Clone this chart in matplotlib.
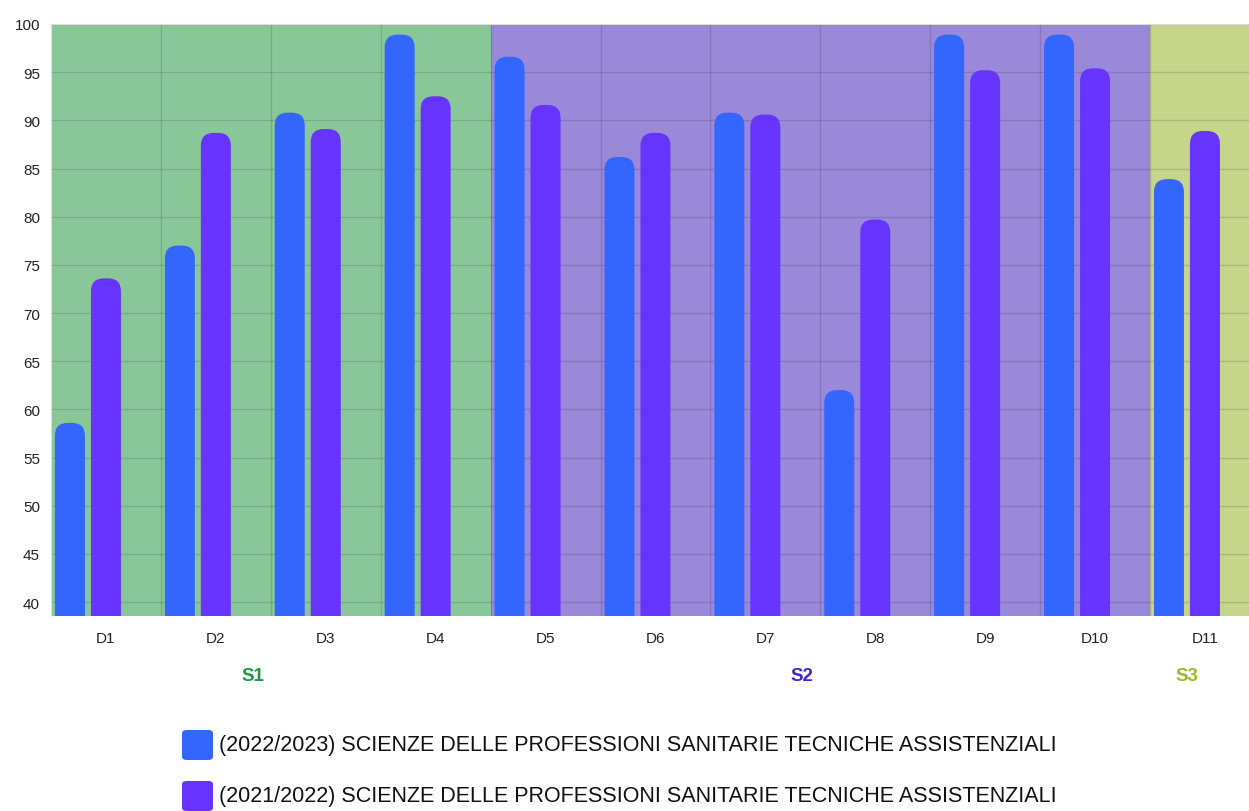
import matplotlib
matplotlib.use("Agg")
import matplotlib.pyplot as plt
from matplotlib.patches import FancyBboxPatch

plt.rcParams['font.family'] = ['Liberation Sans', 'DejaVu Sans']

categories = ['D1', 'D2', 'D3', 'D4', 'D5', 'D6', 'D7', 'D8', 'D9', 'D10', 'D11']
serie_2023 = [58.6, 77.0, 90.8, 98.9, 96.6, 86.2, 90.8, 62.0, 98.9, 98.9, 83.9]
serie_2022 = [73.6, 88.7, 89.1, 92.5, 91.6, 88.7, 90.6, 79.7, 95.2, 95.4, 88.9]
nomi = ['(2022/2023) SCIENZE DELLE PROFESSIONI SANITARIE TECNICHE ASSISTENZIALI',
        '(2021/2022) SCIENZE DELLE PROFESSIONI SANITARIE TECNICHE ASSISTENZIALI']
colori = ['#3366FF', '#6633FF']

# semestri: (nome, primo indice, ultimo indice)
semestri = [('S1', 0, 3), ('S2', 4, 9), ('S3', 10, 10)]
sfondi = ['#89C799', '#9A89D9', '#C6D58A']
col_sem = ['#229944', '#4422CC', '#99BB22']

W, H = 1249, 812
cat_px = 109.9          # larghezza di una categoria in pixel (l'ultima e' tagliata)
fig = plt.figure(figsize=(W / 100, H / 100), dpi=100)
ax = fig.add_axes([51 / W, 1 - 617 / H, 1 - 51 / W, (617 - 25) / H])

ymin, ymax = 38.55, 100
ax.set_xlim(0, (W - 51) / cat_px)
ax.set_ylim(ymin, ymax)

# sfondi dei semestri
for (nome, a, b), c in zip(semestri, sfondi):
    ax.axvspan(a, b + 1, color=c, zorder=0, lw=0)

# griglia
for y in range(40, 101, 5):
    ax.axhline(y, color='black', alpha=0.13, lw=1, zorder=1)
for i in range(1, len(categories)):
    ax.axvline(i, color='black', alpha=0.13, lw=1, zorder=1)

# barre arrotondate in alto
bw = 30 / cat_px
offs = [-36 / cat_px, 0.0]
px_y = (617 - 25) / (ymax - ymin)
aspect = cat_px / px_y
r = 13 / cat_px
for serie, off, col in zip([serie_2023, serie_2022], offs, colori):
    for i, v in enumerate(serie):
        x0 = i + 0.5 + off - bw / 2
        p = FancyBboxPatch((x0, 20), bw, v - 20,
                           boxstyle='round,pad=0,rounding_size=%f' % r,
                           mutation_aspect=aspect, fc=col, ec='none',
                           zorder=3, clip_on=True)
        ax.add_patch(p)

ax.set_yticks(range(40, 101, 5))
ax.set_yticklabels([str(y) for y in range(40, 101, 5)], fontsize=11, color='#222222')
ax.set_xticks([i + 0.5 for i in range(len(categories))])
ax.set_xticklabels(categories, fontsize=11, color='#222222')
ax.tick_params(length=0, pad=8)
ax.tick_params(axis='x', pad=11)
for s in ['right', 'bottom']:
    ax.spines[s].set_visible(False)
for s in ['top', 'left']:
    ax.spines[s].set_color('#dddddd')

# etichette semestri
centro_gruppo = (offs[0] + offs[1]) / 2
for (nome, a, b), c in zip(semestri, col_sem):
    xc = (a + b + 1) / 2 + centro_gruppo
    ax.text(xc, -0.1, nome, transform=ax.get_xaxis_transform(),
            ha='center', va='center', fontsize=13.5, fontweight='bold', color=c)

# legenda
for k, (nome, col) in enumerate(zip(nomi, colori)):
    yc = 746 + 51 * k
    sq = FancyBboxPatch((182 / W, 1 - (yc + 15) / H), 31 / W, 30 / H,
                        boxstyle='round,pad=0,rounding_size=0.004',
                        transform=fig.transFigure, fc=col, ec='none')
    fig.patches.append(sq)
    fig.text(219 / W, 1 - yc / H, nome, ha='left', va='center',
             fontsize=15.5, color='#111111')

fig.savefig('out.png', dpi=100)
